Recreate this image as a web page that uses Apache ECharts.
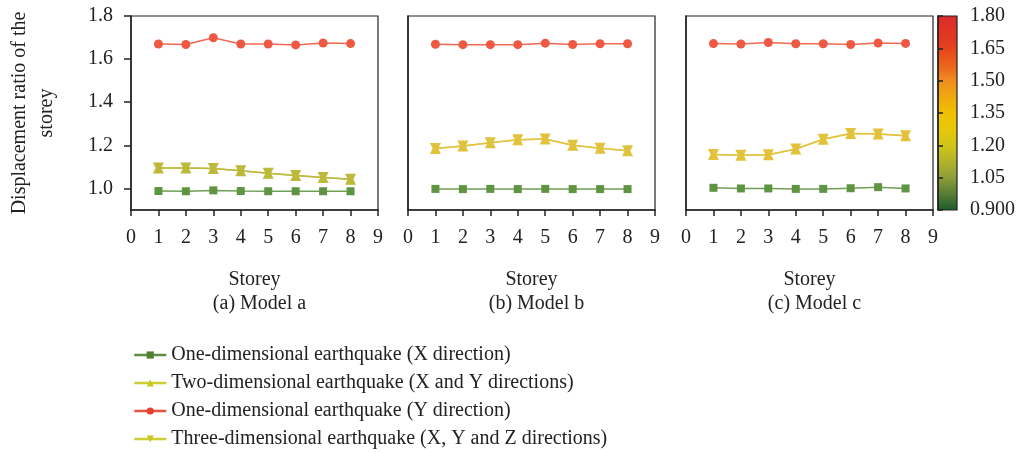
<!DOCTYPE html>
<html>
<head>
<meta charset="utf-8">
<script src="https://cdn.jsdelivr.net/npm/echarts@6/dist/echarts.min.js"></script>
<style>
html,body{margin:0;padding:0;background:#fff;}
#chart{width:1019px;height:453px;}
</style>
</head>
<body>
<div id="chart"></div>
<script>
// ---- data ----
const storeys = [1, 2, 3, 4, 5, 6, 7, 8];
const panelTitles = ['(a) Model a', '(b) Model b', '(c) Model c'];
const seriesNames = [
  'One-dimensional earthquake (X direction)',
  'Two-dimensional earthquake (X and Y directions)',
  'One-dimensional earthquake (Y direction)',
  'Three-dimensional earthquake (X, Y and Z directions)'
];
// Model a
const aX  = [0.988, 0.987, 0.991, 0.988, 0.987, 0.987, 0.987, 0.987];
const aXY = [1.095, 1.095, 1.093, 1.082, 1.071, 1.060, 1.051, 1.043];
const aY  = [1.670, 1.668, 1.699, 1.670, 1.670, 1.666, 1.675, 1.672];
const aXYZ= [1.095, 1.095, 1.093, 1.082, 1.071, 1.060, 1.051, 1.043];
// Model b
const bX  = [0.998, 0.997, 0.998, 0.997, 0.998, 0.997, 0.997, 0.997];
const bXY = [1.185, 1.197, 1.212, 1.226, 1.229, 1.200, 1.186, 1.175];
const bY  = [1.669, 1.667, 1.667, 1.667, 1.674, 1.668, 1.671, 1.671];
const bXYZ= [1.185, 1.197, 1.212, 1.226, 1.229, 1.200, 1.186, 1.175];
// Model c
const cX  = [1.003, 1.000, 1.000, 0.998, 0.998, 1.001, 1.006, 1.000];
const cXY = [1.158, 1.154, 1.156, 1.183, 1.228, 1.255, 1.253, 1.245];
const cY  = [1.672, 1.670, 1.677, 1.671, 1.671, 1.668, 1.675, 1.673];
const cXYZ= [1.158, 1.154, 1.156, 1.183, 1.228, 1.255, 1.253, 1.245];
const yTickValues = [1.0, 1.2, 1.4, 1.6, 1.8];
const colorbarTicks = [0.9, 1.05, 1.2, 1.35, 1.5, 1.65, 1.8];

const panels = [[aX, aXY, aY, aXYZ], [bX, bXY, bY, bXYZ], [cX, cXY, cY, cXYZ]];

// ---- styles ----
const FONT = '"Liberation Serif", "DejaVu Serif", serif';
const FS = 20;
const AX = '#222';
const gridLefts = [131, 408, 686];
const gridW = 247, gridTop = 16, gridH = 194;
const greenC = '#5f9442';
const redC = '#ef5842';
const starC = ['#bdb93a', '#e0c23c', '#e2c23a'];
const symbols = ['rect', 'triangle', 'circle', 'triangle'];
const symRot = [0, 0, 0, 180];
const symSize = [8, 11, 9, 11];

const grids = [], xAxes = [], yAxes = [], series = [], titles = [];
panels.forEach((pd, p) => {
  grids.push({left: gridLefts[p], top: gridTop, width: gridW, height: gridH,
    show: true, borderColor: AX, borderWidth: 1.2, backgroundColor: 'transparent'});
  xAxes.push({
    type: 'value', gridIndex: p, min: 0, max: 9, interval: 1,
    name: 'Storey', nameLocation: 'middle', nameGap: 60,
    nameTextStyle: {fontFamily: FONT, fontSize: FS, color: '#222'},
    axisLine: {show: true, lineStyle: {color: AX, width: 1.5}},
    axisTick: {show: true, length: 6, inside: false, lineStyle: {color: AX, width: 1.5}},
    axisLabel: {fontFamily: FONT, fontSize: FS, color: '#222', margin: 18},
    splitLine: {show: false}
  });
  yAxes.push({
    type: 'value', gridIndex: p, min: 0.9, max: 1.8, interval: 0.1,
    axisLine: {show: true, lineStyle: {color: AX, width: 1.5}},
    axisTick: {show: p === 0, length: 7, customValues: yTickValues, lineStyle: {color: AX, width: 1.5}},
    axisLabel: {show: p === 0, customValues: yTickValues, fontFamily: FONT, fontSize: FS, color: '#222', margin: 18,
      formatter: v => Number(v).toFixed(1)},
    splitLine: {show: false}
  });
  const colors = [greenC, starC[p], redC, starC[p]];
  pd.forEach((vals, s) => {
    series.push({
      name: seriesNames[s], type: 'line', xAxisIndex: p, yAxisIndex: p,
      data: storeys.map((x, i) => [x, vals[i]]),
      symbol: symbols[s], symbolSize: symSize[s], symbolRotate: symRot[s],
      showSymbol: true,
      lineStyle: {color: colors[s], width: 1.5, opacity: 0.9},
      itemStyle: {color: colors[s]},
      z: s === 2 ? 3 : 2,
      animation: false
    });
  });
  titles.push({
    text: panelTitles[p], left: gridLefts[p] + gridW / 2, top: 289, textAlign: 'center',
    textStyle: {fontFamily: FONT, fontSize: FS, fontWeight: 'normal', color: '#222'}
  });
});

// colorbar grid
grids.push({left: 938, top: gridTop, width: 19, height: gridH, show: true,
  borderColor: AX, borderWidth: 1.2,
  backgroundColor: new echarts.graphic.LinearGradient(0, 0, 0, 1, [
    {offset: 0.00, color: '#dc2a2a'},
    {offset: 0.12, color: '#e23a22'},
    {offset: 0.17, color: '#e6441c'},
    {offset: 0.27, color: '#ec6a1a'},
    {offset: 0.33, color: '#f08a20'},
    {offset: 0.42, color: '#f0aa10'},
    {offset: 0.50, color: '#f0c000'},
    {offset: 0.58, color: '#e8c808'},
    {offset: 0.67, color: '#cec418'},
    {offset: 0.76, color: '#aeb02c'},
    {offset: 0.83, color: '#8e9e38'},
    {offset: 0.92, color: '#557a34'},
    {offset: 1.00, color: '#1c5a2c'}
  ])});
xAxes.push({type: 'value', gridIndex: 3, min: 0, max: 1, show: false});
yAxes.push({
  type: 'value', gridIndex: 3, position: 'right', min: 0.9, max: 1.8, interval: 0.15,
  axisLine: {show: true, lineStyle: {color: AX, width: 1.5}},
  axisTick: {show: true, length: 5, lineStyle: {color: AX, width: 1.5}},
  axisLabel: {fontFamily: FONT, fontSize: FS, color: '#222', margin: 13,
    formatter: v => Math.abs(v - 0.9) < 1e-6 ? '0.900' : Number(v).toFixed(2)},
  splitLine: {show: false}
});

const legendColors = ['#4f8030', '#c8c820', '#e84030', '#c8c820'];

const option = {
  backgroundColor: '#fff',
  animation: false,
  title: titles,
  grid: grids,
  xAxis: xAxes,
  yAxis: yAxes,
  series: series,
  legend: {
    orient: 'vertical', left: 128, top: 340, height: 120, width: 700,
    itemWidth: 32, itemHeight: 9, itemGap: 8,
    textStyle: {fontFamily: FONT, fontSize: FS, color: '#222', lineHeight: 20},
    data: seriesNames.map((n, i) => ({
      name: n,
      itemStyle: {color: legendColors[i]},
      lineStyle: {color: legendColors[i], width: 2.5}
    })),
    selectedMode: false
  },
  graphic: [{
    type: 'text', x: 33, y: 113, rotation: Math.PI / 2,
    style: {text: 'Displacement ratio of the\nstorey', font: '20px ' + FONT,
      fill: '#222', align: 'center', verticalAlign: 'middle', lineHeight: 27}
  }]
};
const chart = echarts.init(document.getElementById('chart'), null, {renderer: 'canvas'});
chart.setOption(option);
</script>
</body>
</html>
